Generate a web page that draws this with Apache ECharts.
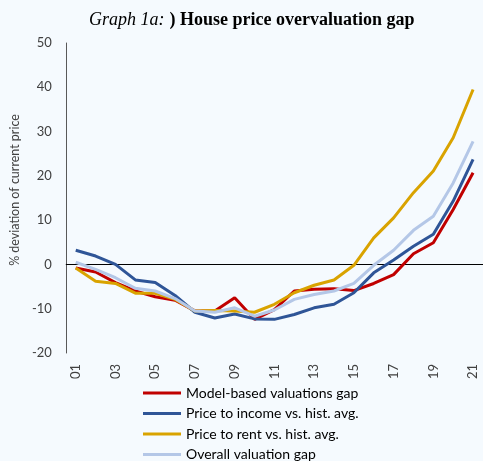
<!DOCTYPE html>
<html><head><meta charset="utf-8">
<script src="https://cdn.jsdelivr.net/npm/echarts@6/dist/echarts.min.js"></script>
<style>html,body{margin:0;padding:0;background:#F5FAFE}#c{width:483px;height:461px}</style>
</head><body><div id="c"></div>
<script>
const years = ['01','02','03','04','05','06','07','08','09','10','11','12','13','14','15','16','17','18','19','20','21'];
const modelGap = [-0.8,-1.7,-4.1,-6.0,-7.3,-8.1,-10.5,-10.5,-7.5,-12.4,-10.2,-6.0,-5.6,-5.5,-5.9,-4.3,-2.3,2.4,4.9,12.4,20.7];
const priceIncome = [3.2,1.9,0.0,-3.5,-4.1,-7.0,-10.8,-12.1,-11.2,-12.3,-12.4,-11.3,-9.8,-9.0,-6.4,-1.9,1.0,4.1,6.8,14.3,23.7];
const priceRent = [-0.8,-3.8,-4.3,-6.5,-6.5,-7.9,-10.5,-10.4,-10.5,-10.8,-9.0,-6.4,-4.7,-3.5,-0.2,6.0,10.5,16.2,21.1,28.6,39.5];
const overallGap = [0.5,-1.1,-3.0,-5.4,-6.0,-7.7,-10.5,-10.8,-9.8,-11.7,-10.3,-7.9,-6.8,-6.0,-4.3,-0.2,3.2,7.7,10.9,18.4,27.8];
const yTicks = {min:-20, max:50, interval:10};
const names = ['Model-based valuations gap','Price to income vs. hist. avg.','Price to rent vs. hist. avg.','Overall valuation gap'];
const colors = ['#C00000','#2F5597','#D9A300','#B4C7E7'];
const values = [modelGap, priceIncome, priceRent, overallGap];

const chart = echarts.init(document.getElementById('c'), null, {renderer:'canvas'});
const font = 'Lato, "Open Sans", sans-serif';
const series = values.map((v,i)=>({
  name:names[i], type:'line', data:v, symbol:'none', smooth:false,
  lineStyle:{color:colors[i], width:3}, itemStyle:{color:colors[i]},
  z: 3,
  markLine: i===0 ? {silent:true, symbol:'none', label:{show:false},
    lineStyle:{color:'#000', width:1, type:'solid'}, data:[{yAxis:0}], z:1} : undefined
}));
chart.setOption({
  backgroundColor:'#F5FAFE',
  animation:false,
  title:{
    text:'{i|Graph 1a:} {b|) House price overvaluation gap}',
    left:84, top:6,
    textStyle:{fontWeight:'normal', fontSize:18, rich:{
      i:{fontFamily:'"Liberation Serif", serif', fontStyle:'italic', fontWeight:'normal', fontSize:18, color:'#000'},
      b:{fontFamily:'"Liberation Serif", serif', fontWeight:'bold', fontSize:18, color:'#000'}
    }}
  },
  grid:{left:64, top:43, bottom:108, right:-3},
  xAxis:{
    type:'category', data:years, boundaryGap:true,
    axisLine:{show:false}, axisTick:{show:false},
    axisLabel:{rotate:90, interval:1, fontFamily:font, fontSize:13, color:'#404040', margin:11}
  },
  yAxis:{
    type:'value', min:yTicks.min, max:yTicks.max, interval:yTicks.interval,
    name:'% deviation of current price', nameLocation:'middle', nameGap:43, nameRotate:90,
    nameTextStyle:{fontFamily:font, fontSize:12.5, color:'#404040', padding:[0,0,0,16]},
    axisLine:{show:true, lineStyle:{color:'#595959', width:1}}, axisTick:{show:false},
    splitLine:{show:false},
    axisLabel:{fontFamily:font, fontSize:13, color:'#404040', margin:14}
  },
  legend:{
    orient:'vertical', left:143, top:386, height:100, padding:0,
    itemWidth:38, itemHeight:12, itemGap:6.5,
    textStyle:{fontFamily:font, fontSize:14, lineHeight:14, color:'#000'},
    data:names.map((n,i)=>({name:n, icon:'path://M0,0L38,0L38,3L0,3Z', itemStyle:{color:colors[i]}}))
  },
  series
});
</script></body></html>
